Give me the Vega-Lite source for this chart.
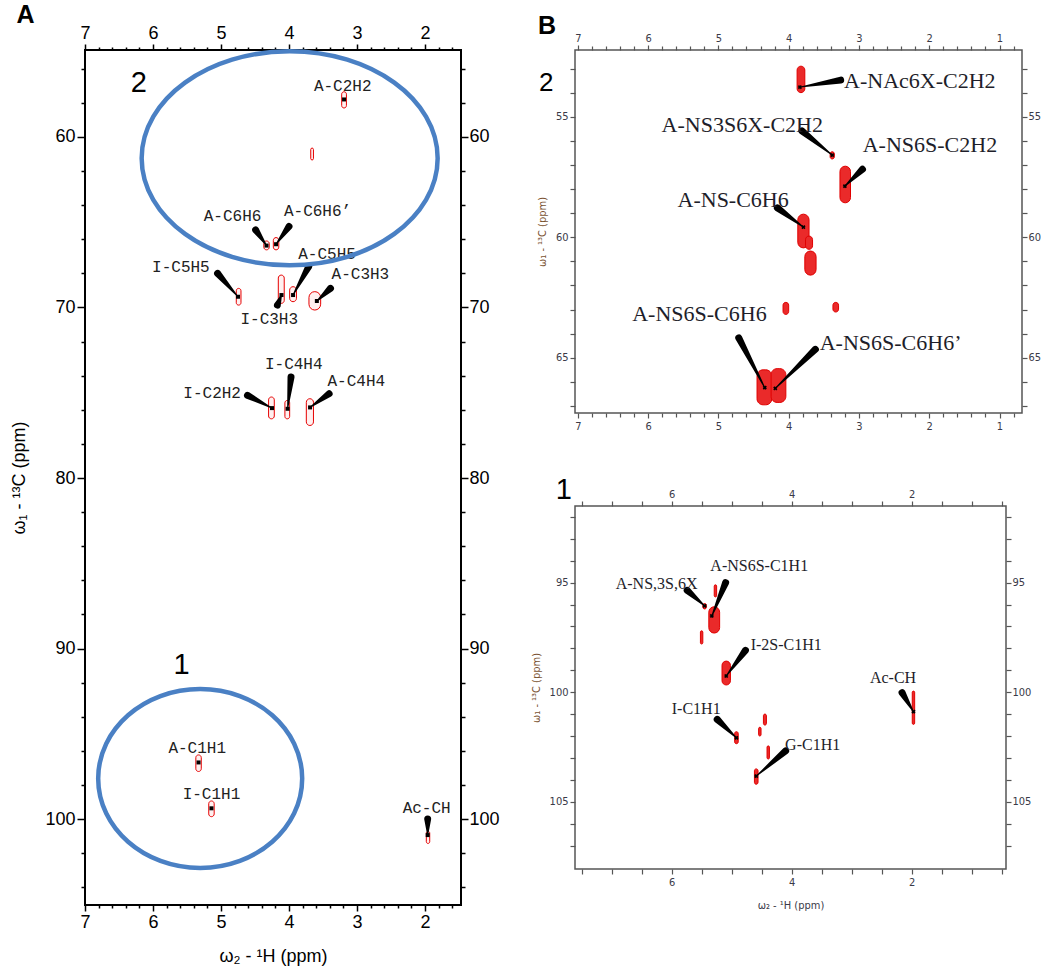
{
  "$schema": "https://vega.github.io/schema/vega-lite/v6.json",
  "background": "white",
  "padding": {"left": 9, "top": 1, "right": 5, "bottom": 5},
  "bounds": "flush",
  "spacing": 114,
  "config": {"axis": {"labelFlush": false, "labelOverlap": false, "grid": false, "domain": false}},
  "datasets": {
    "peaksA": [
      {"id": "A-C2H2", "x1": 3.225, "x2": 3.155, "y1": 57.35, "y2": 58.3},
      {"id": "unassigned", "x1": 3.68, "x2": 3.64, "y1": 60.65, "y2": 61.35},
      {"id": "A-C6H6", "x1": 4.37, "x2": 4.29, "y1": 66.1, "y2": 66.62},
      {"id": "A-C6H6’", "x1": 4.23, "x2": 4.15, "y1": 65.9, "y2": 66.62},
      {"id": "I-C5H5", "x1": 4.775, "x2": 4.706, "y1": 68.88, "y2": 69.86},
      {"id": "I-C3H3", "x1": 4.157, "x2": 4.07, "y1": 68.1, "y2": 69.76},
      {"id": "A-C5H5", "x1": 3.99, "x2": 3.89, "y1": 68.78, "y2": 69.66},
      {"id": "A-C3H3", "x1": 3.706, "x2": 3.534, "y1": 69.07, "y2": 70.15},
      {"id": "I-C2H2", "x1": 4.3, "x2": 4.216, "y1": 75.25, "y2": 76.53},
      {"id": "I-C4H4", "x1": 4.06, "x2": 3.99, "y1": 75.45, "y2": 76.53},
      {"id": "A-C4H4", "x1": 3.745, "x2": 3.64, "y1": 75.35, "y2": 76.92},
      {"id": "A-C1H1", "x1": 5.37, "x2": 5.29, "y1": 96.24, "y2": 97.21},
      {"id": "I-C1H1", "x1": 5.18, "x2": 5.1, "y1": 98.94, "y2": 99.86},
      {"id": "Ac-CH", "x1": 1.98, "x2": 1.93, "y1": 100.72, "y2": 101.43}
    ],
    "centersA": [
      {"id": "A-C2H2", "x": 3.19, "y": 57.8},
      {"id": "A-C6H6", "x": 4.33, "y": 66.37},
      {"id": "A-C6H6’", "x": 4.19, "y": 66.29},
      {"id": "I-C5H5", "x": 4.75, "y": 69.37},
      {"id": "I-C3H3", "x": 4.11, "y": 69.27},
      {"id": "A-C5H5", "x": 3.94, "y": 69.27},
      {"id": "A-C3H3", "x": 3.59, "y": 69.62},
      {"id": "I-C2H2", "x": 4.25, "y": 75.9},
      {"id": "I-C4H4", "x": 4.02, "y": 75.94},
      {"id": "A-C4H4", "x": 3.69, "y": 75.86},
      {"id": "A-C1H1", "x": 5.33, "y": 96.68},
      {"id": "I-C1H1", "x": 5.14, "y": 99.37},
      {"id": "Ac-CH", "x": 1.96, "y": 100.94}
    ],
    "labelsA": [
      {"id": "A-C2H2", "x": 3.21, "y": 57.0},
      {"id": "A-C6H6", "x": 4.83, "y": 64.62},
      {"id": "A-C6H6’", "x": 3.58, "y": 64.37},
      {"id": "A-C5H5", "x": 3.44, "y": 66.88},
      {"id": "I-C3H3", "x": 4.29, "y": 70.69},
      {"id": "I-C5H5", "x": 5.59, "y": 67.6},
      {"id": "A-C3H3", "x": 2.95, "y": 68.06},
      {"id": "I-C2H2", "x": 5.13, "y": 75.02},
      {"id": "I-C4H4", "x": 3.93, "y": 73.33},
      {"id": "A-C4H4", "x": 3.01, "y": 74.33},
      {"id": "A-C1H1", "x": 5.35, "y": 95.84},
      {"id": "I-C1H1", "x": 5.14, "y": 98.53},
      {"id": "Ac-CH", "x": 1.975, "y": 99.37}
    ],
    "wedgesA": [
      {"id": "A-C6H6", "end": "tip", "x": 4.33, "y": 66.37},
      {"id": "A-C6H6", "end": "base", "x": 4.49, "y": 65.45},
      {"id": "A-C6H6’", "end": "tip", "x": 4.19, "y": 66.29},
      {"id": "A-C6H6’", "end": "base", "x": 4.0, "y": 65.25},
      {"id": "A-C5H5", "end": "tip", "x": 3.94, "y": 69.27},
      {"id": "A-C5H5", "end": "base", "x": 3.71, "y": 67.6},
      {"id": "I-C3H3", "end": "tip", "x": 4.11, "y": 69.27},
      {"id": "I-C3H3", "end": "base", "x": 4.17, "y": 69.86},
      {"id": "I-C5H5", "end": "tip", "x": 4.75, "y": 69.37},
      {"id": "I-C5H5", "end": "base", "x": 5.05, "y": 68.0},
      {"id": "A-C3H3", "end": "tip", "x": 3.59, "y": 69.62},
      {"id": "A-C3H3", "end": "base", "x": 3.39, "y": 68.88},
      {"id": "I-C2H2", "end": "tip", "x": 4.25, "y": 75.9},
      {"id": "I-C2H2", "end": "base", "x": 4.61, "y": 75.15},
      {"id": "I-C4H4", "end": "tip", "x": 4.02, "y": 75.94},
      {"id": "I-C4H4", "end": "base", "x": 3.97, "y": 74.08},
      {"id": "A-C4H4", "end": "tip", "x": 3.69, "y": 75.86},
      {"id": "A-C4H4", "end": "base", "x": 3.41, "y": 75.06},
      {"id": "Ac-CH", "end": "tip", "x": 1.96, "y": 100.94},
      {"id": "Ac-CH", "end": "base", "x": 1.96, "y": 100.0}
    ],
    "peaksB2": [
      {"id": "A-NAc6X-C2H2", "x1": 3.88, "x2": 3.77, "y1": 52.9, "y2": 54.0},
      {"id": "A-NS3S6X-C2H2", "x1": 3.41, "x2": 3.35, "y1": 56.45, "y2": 56.75},
      {"id": "A-NS6S-C2H2", "x1": 3.27, "x2": 3.12, "y1": 57.05, "y2": 58.57},
      {"id": "A-NS-C6H6", "x1": 3.87, "x2": 3.71, "y1": 59.04, "y2": 60.44},
      {"id": "u1a", "x1": 3.76, "x2": 3.66, "y1": 59.95, "y2": 60.5},
      {"id": "u1b", "x1": 3.77, "x2": 3.61, "y1": 60.57, "y2": 61.57},
      {"id": "u2", "x1": 4.08, "x2": 4.0, "y1": 62.7, "y2": 63.2},
      {"id": "u3", "x1": 3.37, "x2": 3.29, "y1": 62.7, "y2": 63.1},
      {"id": "A-NS6S-C6H6", "x1": 4.45, "x2": 4.24, "y1": 65.5, "y2": 66.95},
      {"id": "A-NS6S-C6H6’", "x1": 4.25, "x2": 4.04, "y1": 65.45, "y2": 66.85}
    ],
    "centersB2": [
      {"id": "A-NAc6X-C2H2", "x": 3.84, "y": 53.77},
      {"id": "A-NS3S6X-C2H2", "x": 3.38, "y": 56.59},
      {"id": "A-NS6S-C2H2", "x": 3.2, "y": 57.88},
      {"id": "A-NS-C6H6", "x": 3.79, "y": 59.58},
      {"id": "A-NS6S-C6H6", "x": 4.34, "y": 66.24},
      {"id": "A-NS6S-C6H6’", "x": 4.19, "y": 66.27}
    ],
    "labelsB2": [
      {"id": "A-NAc6X-C2H2", "x": 2.134, "y": 53.52},
      {"id": "A-NS3S6X-C2H2", "x": 4.66, "y": 55.36},
      {"id": "A-NS6S-C2H2", "x": 1.99, "y": 56.18},
      {"id": "A-NS-C6H6", "x": 4.79, "y": 58.44},
      {"id": "A-NS6S-C6H6", "x": 5.27, "y": 63.2},
      {"id": "A-NS6S-C6H6’", "x": 2.55, "y": 64.38}
    ],
    "wedgesB2": [
      {"id": "A-NAc6X-C2H2", "end": "tip", "x": 3.84, "y": 53.77},
      {"id": "A-NAc6X-C2H2", "end": "base", "x": 3.26, "y": 53.48},
      {"id": "A-NS3S6X-C2H2", "end": "tip", "x": 3.38, "y": 56.59},
      {"id": "A-NS3S6X-C2H2", "end": "base", "x": 3.81, "y": 55.59},
      {"id": "A-NS6S-C2H2", "end": "tip", "x": 3.2, "y": 57.88},
      {"id": "A-NS6S-C2H2", "end": "base", "x": 2.95, "y": 57.18},
      {"id": "A-NS-C6H6", "end": "tip", "x": 3.79, "y": 59.58},
      {"id": "A-NS-C6H6", "end": "base", "x": 4.16, "y": 58.78},
      {"id": "A-NS6S-C6H6", "end": "tip", "x": 4.34, "y": 66.24},
      {"id": "A-NS6S-C6H6", "end": "base", "x": 4.71, "y": 64.17},
      {"id": "A-NS6S-C6H6’", "end": "tip", "x": 4.19, "y": 66.27},
      {"id": "A-NS6S-C6H6’", "end": "base", "x": 3.62, "y": 64.65}
    ],
    "peaksB1": [
      {"id": "A-NS,3S,6X", "x1": 5.48, "x2": 5.42, "y1": 95.95, "y2": 96.2},
      {"id": "A-NS6S-C1H1", "x1": 5.38, "x2": 5.2, "y1": 96.1, "y2": 97.3},
      {"id": "u1", "x1": 5.29, "x2": 5.25, "y1": 95.1, "y2": 95.65},
      {"id": "u2", "x1": 5.52, "x2": 5.48, "y1": 97.2, "y2": 97.8},
      {"id": "I-2S-C1H1", "x1": 5.16, "x2": 5.02, "y1": 98.58, "y2": 99.67},
      {"id": "I-C1H1", "x1": 4.95, "x2": 4.89, "y1": 101.8, "y2": 102.35},
      {"id": "u3", "x1": 4.47, "x2": 4.42, "y1": 101.0, "y2": 101.5},
      {"id": "u4", "x1": 4.55, "x2": 4.51, "y1": 101.6, "y2": 102.0},
      {"id": "u5", "x1": 4.41, "x2": 4.37, "y1": 102.45, "y2": 103.05},
      {"id": "G-C1H1", "x1": 4.62, "x2": 4.56, "y1": 103.5, "y2": 104.2},
      {"id": "Ac-CH", "x1": 1.99, "x2": 1.95, "y1": 99.95, "y2": 101.47}
    ],
    "centersB1": [
      {"id": "A-NS,3S,6X", "x": 5.45, "y": 96.06},
      {"id": "A-NS6S-C1H1", "x": 5.33, "y": 96.52},
      {"id": "I-2S-C1H1", "x": 5.09, "y": 99.26},
      {"id": "I-C1H1", "x": 4.92, "y": 102.08},
      {"id": "G-C1H1", "x": 4.59, "y": 103.83},
      {"id": "Ac-CH", "x": 1.97, "y": 100.89}
    ],
    "labelsB1": [
      {"id": "A-NS,3S,6X", "x": 6.25, "y": 95.04},
      {"id": "A-NS6S-C1H1", "x": 4.54, "y": 94.24},
      {"id": "I-2S-C1H1", "x": 4.09, "y": 97.84},
      {"id": "I-C1H1", "x": 5.59, "y": 100.78},
      {"id": "G-C1H1", "x": 3.65, "y": 102.42},
      {"id": "Ac-CH", "x": 2.31, "y": 99.34}
    ],
    "wedgesB1": [
      {"id": "A-NS,3S,6X", "end": "tip", "x": 5.45, "y": 96.06},
      {"id": "A-NS,3S,6X", "end": "base", "x": 5.74, "y": 95.35},
      {"id": "A-NS6S-C1H1", "end": "tip", "x": 5.33, "y": 96.52},
      {"id": "A-NS6S-C1H1", "end": "base", "x": 5.1, "y": 95.0},
      {"id": "I-2S-C1H1", "end": "tip", "x": 5.09, "y": 99.26},
      {"id": "I-2S-C1H1", "end": "base", "x": 4.77, "y": 98.09},
      {"id": "I-C1H1", "end": "tip", "x": 4.92, "y": 102.08},
      {"id": "I-C1H1", "end": "base", "x": 5.24, "y": 101.24},
      {"id": "G-C1H1", "end": "tip", "x": 4.59, "y": 103.83},
      {"id": "G-C1H1", "end": "base", "x": 4.1, "y": 102.68},
      {"id": "Ac-CH", "end": "tip", "x": 1.97, "y": 100.89},
      {"id": "Ac-CH", "end": "base", "x": 2.16, "y": 100.02}
    ]
  },
  "hconcat": [
    {
      "width": 376,
      "height": 855,
      "view": {"stroke": "black", "strokeWidth": 2},
      "resolve": {"axis": {"x": "independent", "y": "independent"}},
      "layer": [
        {
          "data": {"name": "peaksA"},
          "mark": {"type": "rect", "fill": "#fff0f0", "stroke": "#e60000", "strokeWidth": 1, "cornerRadius": 10},
          "encoding": {
            "x": {"field": "x1", "type": "quantitative", "scale": {"domain": [7, 1.47], "nice": false, "zero": false},
              "axis": {"orient": "bottom", "values": [7, 6.8, 6.6, 6.4, 6.2, 6, 5.8, 5.6, 5.4, 5.2, 5, 4.8, 4.6, 4.4, 4.2, 4, 3.8, 3.6, 3.4, 3.2, 3, 2.8, 2.6, 2.4, 2.2, 2, 1.8, 1.6],
                "labelExpr": "datum.value % 1 === 0 ? '' + datum.value : ''",
                "tickSize": {"condition": {"test": "datum.value % 1 === 0", "value": 6}, "value": 3},
                "tickColor": "black", "tickWidth": 1.5, "labelFont": "Liberation Sans", "labelFontSize": 18, "labelColor": "black", "labelPadding": 2,
                "title": "ω₂ - ¹H  (ppm)", "titleFont": "Liberation Sans", "titleFontSize": 18, "titleFontWeight": "normal", "titleColor": "black", "titlePadding": 16}},
            "x2": {"field": "x2"},
            "y": {"field": "y1", "type": "quantitative", "scale": {"domain": [105.04, 54.9], "nice": false, "zero": false},
              "axis": {"orient": "left", "values": [56, 58, 60, 62, 64, 66, 68, 70, 72, 74, 76, 78, 80, 82, 84, 86, 88, 90, 92, 94, 96, 98, 100, 102, 104],
                "labelExpr": "datum.value % 10 === 0 ? '' + datum.value : ''",
                "tickSize": {"condition": {"test": "datum.value % 10 === 0", "value": 8}, "value": 4},
                "tickColor": "black", "tickWidth": 1.5, "labelFont": "Liberation Sans", "labelFontSize": 18, "labelColor": "black", "labelPadding": 2,
                "title": "ω₁ - ¹³C  (ppm)", "titleFont": "Liberation Sans", "titleFontSize": 18, "titleFontWeight": "normal", "titleColor": "black", "titlePadding": 16}},
            "y2": {"field": "y2"}
          }
        },
        {
          "data": {"name": "centersA"},
          "mark": {"type": "point", "shape": "square", "filled": true, "color": "black", "size": 16, "opacity": 1},
          "encoding": {
            "x": {"field": "x", "type": "quantitative", "scale": {"domain": [7, 1.47], "nice": false, "zero": false},
              "axis": {"orient": "top", "values": [7, 6.8, 6.6, 6.4, 6.2, 6, 5.8, 5.6, 5.4, 5.2, 5, 4.8, 4.6, 4.4, 4.2, 4, 3.8, 3.6, 3.4, 3.2, 3, 2.8, 2.6, 2.4, 2.2, 2, 1.8, 1.6],
                "labelExpr": "datum.value % 1 === 0 ? '' + datum.value : ''",
                "tickSize": {"condition": {"test": "datum.value % 1 === 0", "value": 6}, "value": 3},
                "tickColor": "black", "tickWidth": 1.5, "labelFont": "Liberation Sans", "labelFontSize": 18, "labelColor": "black", "labelPadding": 2, "title": null}},
            "y": {"field": "y", "type": "quantitative", "scale": {"domain": [105.04, 54.9], "nice": false, "zero": false},
              "axis": {"orient": "right", "values": [56, 58, 60, 62, 64, 66, 68, 70, 72, 74, 76, 78, 80, 82, 84, 86, 88, 90, 92, 94, 96, 98, 100, 102, 104],
                "labelExpr": "datum.value % 10 === 0 ? '' + datum.value : ''",
                "tickSize": {"condition": {"test": "datum.value % 10 === 0", "value": 7}, "value": 4},
                "tickColor": "black", "tickWidth": 1.5, "labelFont": "Liberation Sans", "labelFontSize": 18, "labelColor": "black", "labelPadding": 1, "title": null}}
          }
        },
        {
          "data": {"name": "wedgesA"},
          "mark": {"type": "trail", "color": "black"},
          "encoding": {
            "x": {"field": "x", "type": "quantitative", "scale": {"domain": [7, 1.47], "nice": false, "zero": false}, "axis": null},
            "y": {"field": "y", "type": "quantitative", "scale": {"domain": [105.04, 54.9], "nice": false, "zero": false}, "axis": null},
            "detail": {"field": "id"},
            "size": {"field": "end", "type": "ordinal", "scale": {"domain": ["tip", "base"], "range": [1, 7]}, "legend": null}
          }
        },
        {
          "data": {"name": "labelsA"},
          "mark": {"type": "text", "font": "Liberation Mono", "fontSize": 16, "color": "#222", "align": "center", "baseline": "middle"},
          "encoding": {
            "x": {"field": "x", "type": "quantitative", "scale": {"domain": [7, 1.47], "nice": false, "zero": false}, "axis": null},
            "y": {"field": "y", "type": "quantitative", "scale": {"domain": [105.04, 54.9], "nice": false, "zero": false}, "axis": null},
            "text": {"field": "id"}
          }
        },
        {
          "data": {"values": [{"t": "2", "x": 6.21, "y": 56.82}, {"t": "1", "x": 5.58, "y": 90.94}]},
          "mark": {"type": "text", "font": "Liberation Sans", "fontSize": 29, "color": "black", "align": "center", "baseline": "middle"},
          "encoding": {
            "x": {"field": "x", "type": "quantitative", "scale": {"domain": [7, 1.47], "nice": false, "zero": false}, "axis": null},
            "y": {"field": "y", "type": "quantitative", "scale": {"domain": [105.04, 54.9], "nice": false, "zero": false}, "axis": null},
            "text": {"field": "t"}
          }
        },
        {
          "data": {"values": [{"t": "A", "x": 7.875, "y": 52.84}]},
          "mark": {"type": "text", "font": "Liberation Sans", "fontSize": 25, "fontWeight": "bold", "color": "black", "align": "center", "baseline": "middle"},
          "encoding": {
            "x": {"field": "x", "type": "quantitative", "scale": {"domain": [7, 1.47], "nice": false, "zero": false}, "axis": null},
            "y": {"field": "y", "type": "quantitative", "scale": {"domain": [105.04, 54.9], "nice": false, "zero": false}, "axis": null},
            "text": {"field": "t"}
          }
        },
        {
          "data": {"values": [{"region": "2", "x": 3.99, "y": 61.25}]},
          "mark": {"type": "point", "shape": "M-1,0A1,0.723,0,1,0,1,0A1,0.723,0,1,0,-1,0Z", "size": 87616, "filled": false, "stroke": "#4a80c4", "strokeWidth": 4.5, "opacity": 1},
          "encoding": {
            "x": {"field": "x", "type": "quantitative", "scale": {"domain": [7, 1.47], "nice": false, "zero": false}, "axis": null},
            "y": {"field": "y", "type": "quantitative", "scale": {"domain": [105.04, 54.9], "nice": false, "zero": false}, "axis": null}
          }
        },
        {
          "data": {"values": [{"region": "1", "x": 5.306, "y": 97.62}]},
          "mark": {"type": "point", "shape": "M-1,0A1,0.877,0,1,0,1,0A1,0.877,0,1,0,-1,0Z", "size": 41616, "filled": false, "stroke": "#4a80c4", "strokeWidth": 4.5, "opacity": 1},
          "encoding": {
            "x": {"field": "x", "type": "quantitative", "scale": {"domain": [7, 1.47], "nice": false, "zero": false}, "axis": null},
            "y": {"field": "y", "type": "quantitative", "scale": {"domain": [105.04, 54.9], "nice": false, "zero": false}, "axis": null}
          }
        }
      ]
    },
    {
      "bounds": "flush",
      "spacing": 93,
      "vconcat": [
        {
          "width": 447,
          "height": 363,
          "view": {"stroke": "#555", "strokeWidth": 1.5},
          "resolve": {"axis": {"x": "independent", "y": "independent"}},
          "layer": [
            {
              "data": {"name": "peaksB2"},
              "mark": {"type": "rect", "fill": "#ea2a2a", "stroke": "#e00000", "strokeWidth": 1, "cornerRadius": 6},
              "encoding": {
                "x": {"field": "x1", "type": "quantitative", "scale": {"domain": [7.04, 0.68], "nice": false, "zero": false},
                  "axis": {"orient": "bottom", "values": [7, 6.8, 6.6, 6.4, 6.2, 6, 5.8, 5.6, 5.4, 5.2, 5, 4.8, 4.6, 4.4, 4.2, 4, 3.8, 3.6, 3.4, 3.2, 3, 2.8, 2.6, 2.4, 2.2, 2, 1.8, 1.6, 1.4, 1.2, 1, 0.8],
                    "labelExpr": "datum.value % 1 === 0 ? '' + datum.value : ''",
                    "tickSize": {"condition": {"test": "datum.value % 1 === 0", "value": 5}, "value": 4},
                    "tickColor": "#555", "tickWidth": 1.2, "labelFont": "DejaVu Sans Condensed, Liberation Sans Narrow, DejaVu Sans", "labelFontSize": 11, "labelColor": "#3a3a48", "labelPadding": 2, "title": null}},
                "x2": {"field": "x2"},
                "y": {"field": "y1", "type": "quantitative", "scale": {"domain": [67.29, 52.23], "nice": false, "zero": false},
                  "axis": {"orient": "left", "values": [53, 54, 55, 56, 57, 58, 59, 60, 61, 62, 63, 64, 65, 66, 67],
                    "labelExpr": "datum.value % 5 === 0 ? '' + datum.value : ''",
                    "tickSize": 5, "tickColor": "#555", "tickWidth": 1.2, "labelFont": "DejaVu Sans Condensed, Liberation Sans Narrow, DejaVu Sans", "labelFontSize": 11, "labelColor": "#3a3a48", "labelPadding": 2,
                    "title": "ω₁ - ¹³C (ppm)", "titleFont": "DejaVu Sans Condensed, Liberation Sans Narrow, DejaVu Sans", "titleFontSize": 11, "titleFontWeight": "normal", "titleColor": "#7a5230", "titlePadding": 8}},
                "y2": {"field": "y2"}
              }
            },
            {
              "data": {"name": "wedgesB2"},
              "mark": {"type": "trail", "color": "black"},
              "encoding": {
                "x": {"field": "x", "type": "quantitative", "scale": {"domain": [7.04, 0.68], "nice": false, "zero": false},
                  "axis": {"orient": "top", "values": [7, 6.8, 6.6, 6.4, 6.2, 6, 5.8, 5.6, 5.4, 5.2, 5, 4.8, 4.6, 4.4, 4.2, 4, 3.8, 3.6, 3.4, 3.2, 3, 2.8, 2.6, 2.4, 2.2, 2, 1.8, 1.6, 1.4, 1.2, 1, 0.8],
                    "labelExpr": "datum.value % 1 === 0 ? '' + datum.value : ''",
                    "tickSize": {"condition": {"test": "datum.value % 1 === 0", "value": 5}, "value": 4},
                    "tickColor": "#555", "tickWidth": 1.2, "labelFont": "DejaVu Sans Condensed, Liberation Sans Narrow, DejaVu Sans", "labelFontSize": 11, "labelColor": "#3a3a48", "labelPadding": 2, "title": null}},
                "y": {"field": "y", "type": "quantitative", "scale": {"domain": [67.29, 52.23], "nice": false, "zero": false},
                  "axis": {"orient": "right", "values": [53, 54, 55, 56, 57, 58, 59, 60, 61, 62, 63, 64, 65, 66, 67],
                    "labelExpr": "datum.value % 5 === 0 ? '' + datum.value : ''",
                    "tickSize": 5, "tickColor": "#555", "tickWidth": 1.2, "labelFont": "DejaVu Sans Condensed, Liberation Sans Narrow, DejaVu Sans", "labelFontSize": 11, "labelColor": "#3a3a48", "labelPadding": 1, "title": null}},
                "detail": {"field": "id"},
                "size": {"field": "end", "type": "ordinal", "scale": {"domain": ["tip", "base"], "range": [1, 10]}, "legend": null}
              }
            },
            {
              "data": {"name": "centersB2"},
              "mark": {"type": "point", "shape": "cross", "angle": 45, "filled": true, "color": "black", "size": 18, "opacity": 1},
              "encoding": {
                "x": {"field": "x", "type": "quantitative", "scale": {"domain": [7.04, 0.68], "nice": false, "zero": false}, "axis": null},
                "y": {"field": "y", "type": "quantitative", "scale": {"domain": [67.29, 52.23], "nice": false, "zero": false}, "axis": null}
              }
            },
            {
              "data": {"name": "labelsB2"},
              "mark": {"type": "text", "font": "Liberation Serif", "fontSize": 22, "color": "#1e1e2a", "align": "center", "baseline": "middle"},
              "encoding": {
                "x": {"field": "x", "type": "quantitative", "scale": {"domain": [7.04, 0.68], "nice": false, "zero": false}, "axis": null},
                "y": {"field": "y", "type": "quantitative", "scale": {"domain": [67.29, 52.23], "nice": false, "zero": false}, "axis": null},
                "text": {"field": "id"}
              }
            },
            {
              "data": {"values": [{"t": "2", "x": 7.45, "y": 53.6}]},
              "mark": {"type": "text", "font": "Liberation Sans", "fontSize": 26, "color": "black", "align": "center", "baseline": "middle"},
              "encoding": {
                "x": {"field": "x", "type": "quantitative", "scale": {"domain": [7.04, 0.68], "nice": false, "zero": false}, "axis": null},
                "y": {"field": "y", "type": "quantitative", "scale": {"domain": [67.29, 52.23], "nice": false, "zero": false}, "axis": null},
                "text": {"field": "t"}
              }
            },
            {
              "data": {"values": [{"t": "B", "x": 7.437, "y": 51.24}]},
              "mark": {"type": "text", "font": "Liberation Sans", "fontSize": 25, "fontWeight": "bold", "color": "black", "align": "center", "baseline": "middle"},
              "encoding": {
                "x": {"field": "x", "type": "quantitative", "scale": {"domain": [7.04, 0.68], "nice": false, "zero": false}, "axis": null},
                "y": {"field": "y", "type": "quantitative", "scale": {"domain": [67.29, 52.23], "nice": false, "zero": false}, "axis": null},
                "text": {"field": "t"}
              }
            }
          ]
        },
        {
          "width": 431,
          "height": 363,
          "view": {"stroke": "#555", "strokeWidth": 1.5},
          "resolve": {"axis": {"x": "independent", "y": "independent"}},
          "layer": [
            {
              "data": {"name": "peaksB1"},
              "mark": {"type": "rect", "fill": "#ea2a2a", "stroke": "#e00000", "strokeWidth": 1, "cornerRadius": 6},
              "encoding": {
                "x": {"field": "x1", "type": "quantitative", "scale": {"domain": [7.61, 0.428], "nice": false, "zero": false},
                  "axis": {"orient": "bottom", "values": [7.5, 7, 6.5, 6, 5.5, 5, 4.5, 4, 3.5, 3, 2.5, 2, 1.5, 1, 0.5],
                    "labelExpr": "datum.value % 2 === 0 ? '' + datum.value : ''",
                    "tickSize": 5, "tickColor": "#555", "tickWidth": 1.2, "labelFont": "DejaVu Sans Condensed, Liberation Sans Narrow, DejaVu Sans", "labelFontSize": 11, "labelColor": "#3a3a48", "labelPadding": 2,
                    "title": "ω₂ - ¹H (ppm)", "titleFont": "DejaVu Sans Condensed, Liberation Sans Narrow, DejaVu Sans", "titleFontSize": 11, "titleFontWeight": "normal", "titleColor": "#3a3a48", "titlePadding": 12}},
                "x2": {"field": "x2"},
                "y": {"field": "y1", "type": "quantitative", "scale": {"domain": [108.07, 91.5], "nice": false, "zero": false},
                  "axis": {"orient": "left", "values": [92, 93, 94, 95, 96, 97, 98, 99, 100, 101, 102, 103, 104, 105, 106, 107],
                    "labelExpr": "datum.value % 5 === 0 ? '' + datum.value : ''",
                    "tickSize": 5, "tickColor": "#555", "tickWidth": 1.2, "labelFont": "DejaVu Sans Condensed, Liberation Sans Narrow, DejaVu Sans", "labelFontSize": 11, "labelColor": "#3a3a48", "labelPadding": 2,
                    "title": "ω₁ - ¹³C  (ppm)", "titleFont": "DejaVu Sans Condensed, Liberation Sans Narrow, DejaVu Sans", "titleFontSize": 11, "titleFontWeight": "normal", "titleColor": "#7a5230", "titlePadding": 8}},
                "y2": {"field": "y2"}
              }
            },
            {
              "data": {"name": "wedgesB1"},
              "mark": {"type": "trail", "color": "black"},
              "encoding": {
                "x": {"field": "x", "type": "quantitative", "scale": {"domain": [7.61, 0.428], "nice": false, "zero": false},
                  "axis": {"orient": "top", "values": [7.5, 7, 6.5, 6, 5.5, 5, 4.5, 4, 3.5, 3, 2.5, 2, 1.5, 1, 0.5],
                    "labelExpr": "datum.value % 2 === 0 ? '' + datum.value : ''",
                    "tickSize": 5, "tickColor": "#555", "tickWidth": 1.2, "labelFont": "DejaVu Sans Condensed, Liberation Sans Narrow, DejaVu Sans", "labelFontSize": 11, "labelColor": "#3a3a48", "labelPadding": 2, "title": null}},
                "y": {"field": "y", "type": "quantitative", "scale": {"domain": [108.07, 91.5], "nice": false, "zero": false},
                  "axis": {"orient": "right", "values": [92, 93, 94, 95, 96, 97, 98, 99, 100, 101, 102, 103, 104, 105, 106, 107],
                    "labelExpr": "datum.value % 5 === 0 ? '' + datum.value : ''",
                    "tickSize": 5, "tickColor": "#555", "tickWidth": 1.2, "labelFont": "DejaVu Sans Condensed, Liberation Sans Narrow, DejaVu Sans", "labelFontSize": 11, "labelColor": "#3a3a48", "labelPadding": 1, "title": null}},
                "detail": {"field": "id"},
                "size": {"field": "end", "type": "ordinal", "scale": {"domain": ["tip", "base"], "range": [1, 7]}, "legend": null}
              }
            },
            {
              "data": {"name": "centersB1"},
              "mark": {"type": "point", "shape": "cross", "angle": 45, "filled": true, "color": "black", "size": 18, "opacity": 1},
              "encoding": {
                "x": {"field": "x", "type": "quantitative", "scale": {"domain": [7.61, 0.428], "nice": false, "zero": false}, "axis": null},
                "y": {"field": "y", "type": "quantitative", "scale": {"domain": [108.07, 91.5], "nice": false, "zero": false}, "axis": null}
              }
            },
            {
              "data": {"name": "labelsB1"},
              "mark": {"type": "text", "font": "Liberation Serif", "fontSize": 16, "color": "#1e1e2a", "align": "center", "baseline": "middle"},
              "encoding": {
                "x": {"field": "x", "type": "quantitative", "scale": {"domain": [7.61, 0.428], "nice": false, "zero": false}, "axis": null},
                "y": {"field": "y", "type": "quantitative", "scale": {"domain": [108.07, 91.5], "nice": false, "zero": false}, "axis": null},
                "text": {"field": "id"}
              }
            },
            {
              "data": {"values": [{"t": "1", "x": 7.795, "y": 90.77}]},
              "mark": {"type": "text", "font": "Liberation Sans", "fontSize": 29, "color": "black", "align": "center", "baseline": "middle"},
              "encoding": {
                "x": {"field": "x", "type": "quantitative", "scale": {"domain": [7.61, 0.428], "nice": false, "zero": false}, "axis": null},
                "y": {"field": "y", "type": "quantitative", "scale": {"domain": [108.07, 91.5], "nice": false, "zero": false}, "axis": null},
                "text": {"field": "t"}
              }
            }
          ]
        }
      ]
    }
  ]
}
